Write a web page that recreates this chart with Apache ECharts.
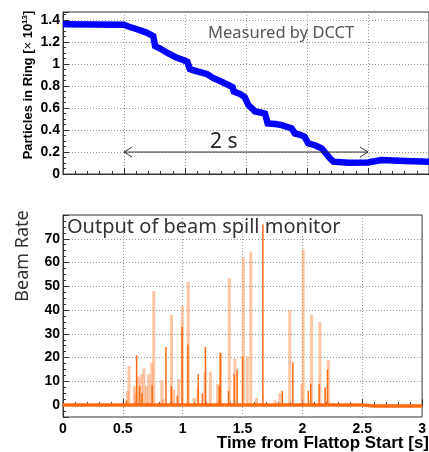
<!DOCTYPE html>
<html>
<head>
<meta charset="utf-8">
<script src="https://cdn.jsdelivr.net/npm/echarts@6/dist/echarts.min.js"></script>
<style>
  html, body { margin: 0; padding: 0; background: #fff; }
  #main { width: 429px; height: 452px; }
</style>
</head>
<body>
<div id="main"></div>
<script>
// DCCT: particles in ring (x 10^13) vs time [s]
var dcctTime = [0, 0.25, 0.5, 0.53, 0.6, 0.68, 0.74, 0.755, 0.8, 0.86, 0.93, 0.99, 1.02, 1.04, 1.1, 1.18, 1.23, 1.246, 1.3, 1.355, 1.39, 1.4, 1.45, 1.49, 1.52, 1.574, 1.62, 1.656, 1.678, 1.74, 1.793, 1.875, 1.9, 1.95, 1.98, 2.01, 2.07, 2.12, 2.16, 2.19, 2.216, 2.34, 2.5, 2.61, 2.8, 3];
var dcctValue = [1.364, 1.362, 1.36, 1.345, 1.32, 1.29, 1.255, 1.165, 1.14, 1.1, 1.06, 1.035, 1.02, 0.955, 0.935, 0.91, 0.875, 0.87, 0.84, 0.81, 0.79, 0.75, 0.73, 0.7, 0.627, 0.57, 0.56, 0.55, 0.46, 0.455, 0.445, 0.415, 0.37, 0.355, 0.34, 0.28, 0.26, 0.234, 0.18, 0.14, 0.112, 0.103, 0.105, 0.127, 0.118, 0.112];

// beam spill monitor: wide/light spikes and narrow/dark spikes
var lightTime = [0.535, 0.545, 0.59, 0.6, 0.625, 0.65, 0.67, 0.69, 0.71, 0.735, 0.752, 0.82, 0.83, 0.9, 0.92, 0.96, 0.99, 1.04, 1.09, 1.12, 1.18, 1.225, 1.285, 1.31, 1.383, 1.43, 1.5, 1.533, 1.563, 1.61, 1.765, 1.806, 1.888, 1.99, 2.0, 2.07, 2.14, 2.21];
var lightRate = [6, 16.5, 8, 5, 12, 13, 15.5, 8, 13, 18, 48, 10.5, 2.5, 38, 6.5, 11, 42, 52, 3, 7, 14, 14, 9, 22, 53.5, 19.5, 62, 20.5, 64.5, 3, 2, 5, 40, 9, 65.5, 38, 35, 19];
var darkTime = [0.53, 0.615, 0.64, 0.66, 0.745, 0.86, 0.905, 0.955, 0.995, 1.043, 1.13, 1.165, 1.19, 1.305, 1.315, 1.383, 1.43, 1.455, 1.5, 1.67, 1.832, 1.92, 2.05, 2.07, 2.14, 2.19, 2.21];
var darkRate = [2, 21, 8, 5, 8.5, 24.5, 8, 4, 33, 25.5, 13, 5, 24.5, 8, 22, 6, 13, 15, 20.5, 76, 6, 18, 6, 9, 9, 7.5, 15];
var baseTime = [0, 0.5, 1.5, 2.5, 2.6, 3];
var baseRate = [0, 0.1, 0.1, 0, -0.4, -0.4];

var xTicks = [0, 0.5, 1, 1.5, 2, 2.5, 3];

function pairs(xs, ys) {
  var out = [];
  for (var i = 0; i < xs.length; i++) out.push([xs[i], ys[i]]);
  return out;
}

var labelFont = { color: '#000', fontFamily: 'Liberation Sans', fontWeight: 'bold', fontSize: 14 };
var gridLine = { show: true, lineStyle: { color: '#999', type: [1, 2], width: 1 }, showMinLine: false, showMaxLine: false };

var chart = echarts.init(document.getElementById('main'));

var option = {
  animation: false,
  backgroundColor: '#fff',
  grid: [
    { left: 63, top: 12, width: 366, height: 162, show: true, borderColor: '#333', borderWidth: 1 },
    { left: 63, top: 215, width: 366, height: 202, show: true, borderColor: '#333', borderWidth: 1 }
  ],
  xAxis: [
    {
      type: 'value', gridIndex: 0, min: xTicks[0], max: xTicks[xTicks.length - 1], interval: 0.5,
      axisLine: { lineStyle: { color: '#333' } },
      axisTick: { inside: true, length: 6, lineStyle: { color: '#333' } },
      minorTick: { show: true, splitNumber: 5, length: 3, lineStyle: { color: '#333' } },
      axisLabel: { show: false },
      splitLine: gridLine
    },
    {
      type: 'value', gridIndex: 1, min: xTicks[0], max: xTicks[xTicks.length - 1], interval: 0.5,
      axisLine: { lineStyle: { color: '#333' } },
      axisTick: { inside: true, length: 6, lineStyle: { color: '#333' } },
      minorTick: { show: true, splitNumber: 5, length: 3, lineStyle: { color: '#333' } },
      axisLabel: Object.assign({ margin: 5, showMaxLabel: true }, labelFont),
      splitLine: gridLine
    }
  ],
  yAxis: [
    {
      type: 'value', gridIndex: 0, min: 0, max: 1.475, interval: 0.2,
      axisLine: { show: true, lineStyle: { color: '#333' } },
      axisTick: { show: true, inside: true, length: 6, lineStyle: { color: '#333' } },
      minorTick: { show: true, splitNumber: 4, length: 3, lineStyle: { color: '#333' } },
      axisLabel: Object.assign({
        margin: 3, showMaxLabel: false,
        formatter: function (v) { return Math.abs(v * 5 - Math.round(v * 5)) < 1e-6 ? String(+v.toFixed(1)) : ''; }
      }, labelFont),
      splitLine: gridLine
    },
    {
      type: 'value', gridIndex: 1, min: -5, max: 80, splitNumber: 8,
      axisLine: { show: true, lineStyle: { color: '#333' } },
      axisTick: { show: true, inside: true, length: 6, lineStyle: { color: '#333' } },
      minorTick: { show: true, splitNumber: 4, length: 3, lineStyle: { color: '#333' } },
      axisLabel: Object.assign({
        margin: 3, showMaxLabel: false, showMinLabel: false,
        formatter: function (v) { return (v % 10 === 0 && v < 80) ? String(v) : ''; }
      }, labelFont),
      splitLine: gridLine
    }
  ],
  series: [
    {
      name: 'DCCT', type: 'line', xAxisIndex: 0, yAxisIndex: 0,
      data: pairs(dcctTime, dcctValue),
      showSymbol: false, smooth: false,
      lineStyle: { color: '#0000ff', width: 6.5, join: 'miter' },
      z: 3
    },
    {
      name: 'baseline', type: 'line', xAxisIndex: 1, yAxisIndex: 1,
      data: pairs(baseTime, baseRate),
      showSymbol: false,
      lineStyle: { color: '#ff6a10', width: 3.5 },
      z: 4
    },
    {
      name: 'light', type: 'bar', xAxisIndex: 1, yAxisIndex: 1,
      data: pairs(lightTime, lightRate),
      barWidth: 3, barGap: '-100%',
      itemStyle: { color: 'rgba(255,150,90,0.55)' },
      z: 2
    },
    {
      name: 'dark', type: 'bar', xAxisIndex: 1, yAxisIndex: 1,
      data: pairs(darkTime, darkRate),
      barWidth: 1.5, barGap: '-100%',
      itemStyle: { color: '#ff6a10' },
      z: 3
    }
  ]
};

chart.setOption(option);

// arrow marking 2 s between t=0.5 and t=2.5 at 0.2 x 10^13
var a0 = chart.convertToPixel({ gridIndex: 0 }, [0.5, 0.2]);
var a1 = chart.convertToPixel({ gridIndex: 0 }, [2.5, 0.2]);
var head = 8, half = 5;

chart.setOption({
  graphic: [
    { type: 'line', shape: { x1: a0[0], y1: a0[1], x2: a1[0], y2: a1[1] }, style: { stroke: '#333', lineWidth: 1 }, z: 10 },
    { type: 'polyline', shape: { points: [[a0[0] + head, a0[1] - half], [a0[0], a0[1]], [a0[0] + head, a0[1] + half]] }, style: { stroke: '#333', lineWidth: 1, fill: null }, z: 10 },
    { type: 'polyline', shape: { points: [[a1[0] - head, a1[1] - half], [a1[0], a1[1]], [a1[0] - head, a1[1] + half]] }, style: { stroke: '#333', lineWidth: 1, fill: null }, z: 10 },
    { type: 'text', x: 210, y: 142, z: 10, style: { text: '2 s', fill: '#222', font: '21px "Noto Sans"', textAlign: 'left', textVerticalAlign: 'middle' } },
    { type: 'text', x: 208, y: 33, z: 10, style: { text: 'Measured by DCCT', fill: '#555', font: '16.5px "Noto Sans"', textAlign: 'left', textVerticalAlign: 'middle' } },
    { type: 'text', x: 67, y: 227, z: 10, style: { text: 'Output of beam spill monitor', fill: '#333', font: '20px "Noto Sans"', textAlign: 'left', textVerticalAlign: 'middle' } },
    {
      type: 'text', x: 28, y: 85, rotation: Math.PI / 2, z: 10,
      style: {
        text: '{a|Particles in Ring [}{c|×}{a| 10}{s|13}{a|]}',
        textAlign: 'center', textVerticalAlign: 'middle',
        rich: {
          a: { fontFamily: 'Liberation Sans', fontWeight: 'bold', fontSize: 13, fill: '#000' },
          c: { fontFamily: 'Liberation Sans', fontSize: 13, fill: '#000' },
          s: { fontFamily: 'Liberation Sans', fontWeight: 'bold', fontSize: 8, fill: '#000', padding: [0, 0, 7, 0] }
        }
      }
    },
    { type: 'text', x: 23, y: 256, rotation: Math.PI / 2, z: 10, style: { text: 'Beam Rate', fill: '#333', font: '18px "Noto Sans"', textAlign: 'center', textVerticalAlign: 'middle' } },
    { type: 'text', x: 429, y: 443, z: 10, style: { text: 'Time from Flattop Start [s]', fill: '#000', font: 'bold 17px "Liberation Sans"', textAlign: 'right', textVerticalAlign: 'middle' } }
  ]
});
</script>
</body>
</html>
